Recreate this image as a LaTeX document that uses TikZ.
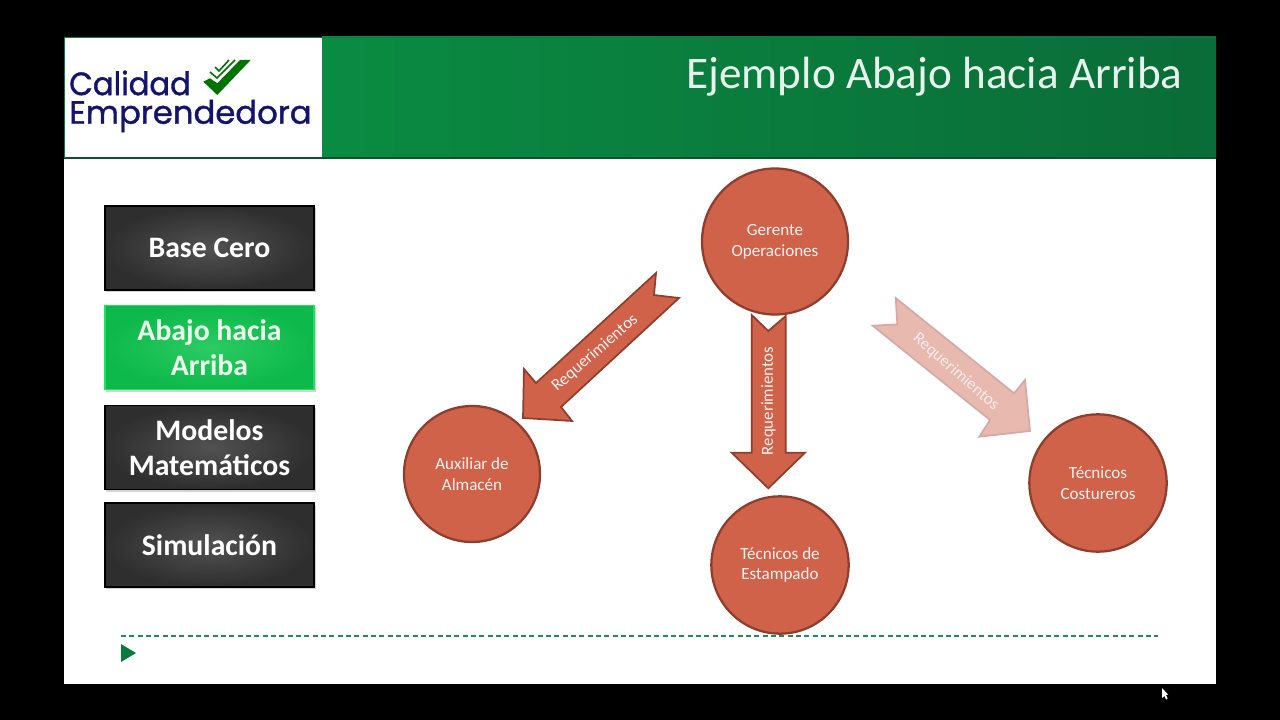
\documentclass[tikz,border=0pt]{standalone}
\usepackage{fontspec}
\setmainfont{Carlito}
\newfontfamily\logofont[FakeBold=1.2]{Poppins}
\usetikzlibrary{shadows,positioning}
\definecolor{marco}{HTML}{0B7A3E}
\definecolor{marcoa}{HTML}{0A8B42}
\definecolor{marcob}{HTML}{0A6C38}
\definecolor{teja}{HTML}{D0624A}
\definecolor{tejaborde}{HTML}{8E3E2D}
\definecolor{rosa}{HTML}{E8B9AF}
\definecolor{rosaborde}{HTML}{D3AAA8}
\definecolor{marino}{HTML}{14146B}
\definecolor{verdea}{HTML}{2CCB63}
\definecolor{verdeb}{HTML}{0DB94A}
\definecolor{verdec}{HTML}{22E05F}
\definecolor{punteado}{HTML}{1F8A5A}
\tikzset{
	circulo/.style={circle,draw=tejaborde,line width=1.7pt,fill=teja,text=white!92!teja,font=\fontsize{12.8}{15.6}\selectfont,align=center,inner sep=0pt},
	boton/.style={rectangle,minimum width=157pt,minimum height=63pt,draw=black,line width=1.2pt,inner color=black!68,outer color=black!82,drop shadow={shadow xshift=1pt,shadow yshift=-1.5pt,opacity=.35},text=white,font=\fontsize{22.3}{26}\selectfont\bfseries,align=center},
	activo/.style={draw=verdec,inner color=verdea,outer color=verdeb,text=green!8!white},
	flecha/.style={draw=tejaborde,line width=1.3pt,fill=teja,line join=miter},
	palida/.style={draw=rosaborde,line width=1.3pt,fill=rosa,line join=miter},
	rotulo/.style={text=white!92!teja,font=\fontsize{12.6}{14}\selectfont,inner sep=0pt},
	marca/.style={text=marino,font=\logofont\fontsize{24.2}{25}\selectfont,anchor=west,inner sep=0pt},
}
\begin{document}
\begin{tikzpicture}[x=0.75pt,y=-0.75pt]
		\useasboundingbox (0,0) rectangle (1280,720);
		\fill [black] (0,0) rectangle (1280,720);
		\fill [white] (64,37) rectangle (1216,684);
		\shade [left color=marcoa,right color=marcob] (322,37) rectangle (1216,158);
		\draw [marco,line width=1pt] (64,37.5) -- (1216,37.5);
		\draw [marco!70!black,line width=1pt] (64,158) -- (1216,158);
		\draw [marco,line width=.8pt] (64.5,37) -- (64.5,158);
		\node [text=white!90!marco,font=\fontsize{33.9}{36}\selectfont,anchor=east,inner sep=0pt] (titulo) at (1183,77) {Ejemplo Abajo hacia Arriba};

		\node [marca,xscale=.95] (logoa) at (69,83) {Calidad};
		\node [marca] (logob) at (69,116) {Emprendedora};
		\fill [green!45!black] (203.3,81.7) -- (217.3,95) -- (250.7,60) -- (240,60) -- (217.3,83.3) -- (210,78.3) -- cycle;
		\draw [green!45!black,line width=1.2pt] (210,72) -- (217,78) -- (235,60);
		\draw [green!45!black,line width=1.2pt] (215,67) -- (219,71) -- (229,60);

		\node [boton] (base) at (209.5,248) {Base Cero};
		\node [boton,activo] (abajo) at (209.5,347.5) {Abajo hacia\\Arriba};
		\node [boton] (modelos) at (209.5,447.5) {Modelos\\Matemáticos};
		\node [boton] (simula) at (209.5,545) {Simulación};

		\node [circulo,minimum size=109.5pt] (gerente) at (775,241.5) {\raisebox{-2pt}{Gerente}\\\raisebox{-2pt}{Operaciones}};
		\node [circulo,minimum size=102pt] (auxiliar) at (472,474) {Auxiliar de\\Almacén};
		\node [circulo,minimum size=103pt] (estampado) at (780,565) {Técnicos de\\Estampado};
		\node [circulo,minimum size=103pt] (costureros) at (1098,483) {Técnicos\\Costureros};

		\draw [flecha] (656,273) -- (654,295) -- (679,298) -- (561,407) -- (572,421) -- (523,418) -- (524,369) -- (536,383) -- cycle;
		\node [rotulo,rotate=41] (reqa) at (595,353) {Requerimientos};
		\draw [flecha] (751.7,315) -- (768.3,331) -- (785.7,316) -- (785.7,452.7) -- (805,452.7) -- (768.3,488.3) -- (731.7,452.7) -- (751.7,452.7) -- cycle;
		\node [rotulo,rotate=90] (reqb) at (768.5,401) {Requerimientos};
		\draw [palida] (895.7,298) -- (897.3,324.3) -- (872.7,325.7) -- (990,420) -- (979.3,436.7) -- (1030,431) -- (1025,380) -- (1014,393.3) -- cycle;
		\node [rotulo,rotate=-41,text=white!75!rosa] (reqc) at (956,372) {Requerimientos};

		\coordinate (lineaa) at (121,635.5);
		\coordinate (lineab) at (1158,635.5);
		\draw [draw=punteado,line width=1.5pt,dash pattern=on 3.75pt off 2.5pt] (lineaa) -- (lineab);
		\fill [marco] (121,644) -- (136,653) -- (121,662) -- cycle;
		\fill [white] (1162,688) -- (1162,698) -- (1164.5,696) -- (1166,699.5) -- (1167.5,698.5) -- (1166,695) -- (1168,694.5) -- cycle;
	\end{tikzpicture}
\end{document}
